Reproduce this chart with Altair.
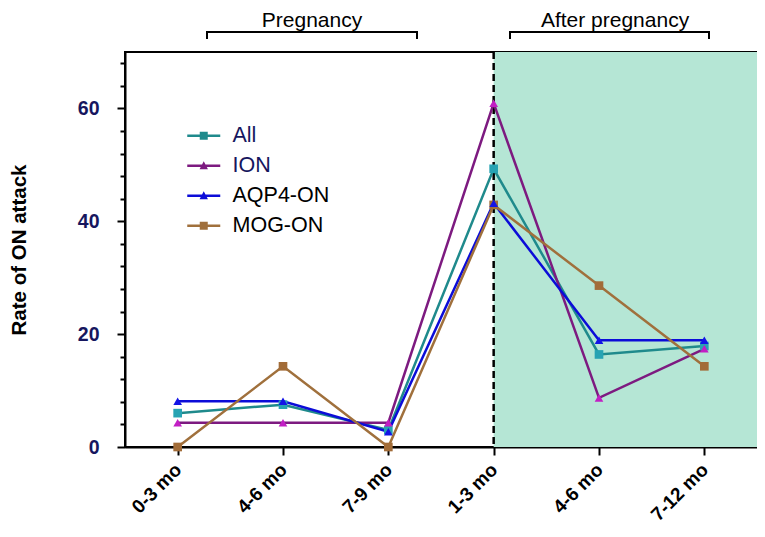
import altair as alt
import pandas as pd

# ---- data ----
phases = ["Pregnancy", "Pregnancy", "Pregnancy", "After", "After", "After"]
period_labels = ["0-3 mo", "4-6 mo", "7-9 mo", "1-3 mo", "4-6 mo", "7-12 mo"]
series_names = ["All", "ION", "AQP4-ON", "MOG-ON"]
all_vals = [6.0, 7.5, 3.0, 49.3, 16.4, 17.9]
ion_vals = [4.3, 4.3, 4.3, 60.9, 8.7, 17.4]
aqp4_vals = [8.1, 8.1, 2.7, 43.2, 18.9, 18.9]
mog_vals = [0.0, 14.3, 0.0, 42.9, 28.6, 14.3]
y_ticks = list(range(0, 69, 4))

line_colors = ["#1f8a8c", "#7d1a80", "#0c0cd8", "#a0703c"]
marker_colors = ["#27a3b3", "#c21fc4", "#1414e6", "#a26c38"]
shade_color = "#b5e6d5"

keys = [f"{p}|{l}" for p, l in zip(phases, period_labels)]
vals = {"All": all_vals, "ION": ion_vals, "AQP4-ON": aqp4_vals, "MOG-ON": mog_vals}
rows = []
for s in series_names:
    for k, v in zip(keys, vals[s]):
        rows.append({"series": s, "period": k, "rate": v})
df = pd.DataFrame(rows)

W, H = 632, 395
FONT = "Liberation Sans"

x_enc = alt.X(
    "period:O",
    sort=keys,
    scale=alt.Scale(domain=keys, type="point", padding=0.5),
    axis=alt.Axis(
        title=None,
        labelExpr="split(datum.label, '|')[1]",
        labelAngle=-45,
        labelFontSize=19,
        labelFontWeight="bold",
        labelColor="black",
        labelPadding=5,
        labelOffset=-6,
        tickSize=8,
        tickWidth=2,
        tickColor="black",
        domainColor="black",
        domainWidth=2,
        grid=False,
    ),
)
y_enc = alt.Y(
    "rate:Q",
    scale=alt.Scale(domain=[0, 70], nice=False),
    axis=alt.Axis(
        title="Rate of ON attack",
        titleFontSize=20.5,
        titleFontWeight="bold",
        titleColor="black",
        titlePadding=48,
        values=y_ticks,
        labelExpr="datum.value % 20 == 0 ? datum.label : ''",
        labelFontSize=19.5,
        labelFontWeight="bold",
        labelColor="#16165e",
        labelPadding=18,
        tickSize={"condition": {"test": "datum.value % 20 == 0", "value": 8}, "value": 5},
        tickWidth=2,
        tickColor="black",
        domainColor="black",
        domainWidth=2,
        grid=False,
    ),
)

color_scale = alt.Scale(domain=series_names, range=line_colors)
fill_scale = alt.Scale(domain=series_names, range=marker_colors)

shade_df = pd.DataFrame({"period": [keys[3]]})
shade = alt.Chart(shade_df).mark_rect(color=shade_color).encode(
    x=alt.X("period:O", sort=keys),
    x2=alt.value("width"),
    y=alt.value(0),
    y2=alt.value("height"),
)
vline = alt.Chart(shade_df).mark_rule(color="black", strokeWidth=2.5, strokeDash=[7, 4]).encode(
    x=alt.X("period:O", sort=keys),
    y=alt.value(0),
    y2=alt.value("height"),
)

lines = alt.Chart(df).mark_line(strokeWidth=2.5).encode(
    x=x_enc,
    y=y_enc,
    color=alt.Color("series:N", scale=color_scale, legend=None),
    detail="series:N",
)

squares = alt.Chart(df).transform_filter(
    alt.FieldOneOfPredicate(field="series", oneOf=["All", "MOG-ON"])
).mark_point(filled=True, shape="square", size=75, opacity=1, strokeWidth=0).encode(
    x=x_enc,
    y=y_enc,
    fill=alt.Fill("series:N", scale=fill_scale, legend=None),
)
triangles = alt.Chart(df).transform_filter(
    alt.FieldOneOfPredicate(field="series", oneOf=["ION", "AQP4-ON"])
).mark_point(filled=True, shape="triangle-up", size=75, opacity=1, strokeWidth=0).encode(
    x=x_enc,
    y=y_enc,
    fill=alt.Fill("series:N", scale=fill_scale, legend=None),
)

sq_path = "M-1.65,-0.12H1.65V0.12H-1.65Z M-0.4,-0.4H0.4V0.4H-0.4Z"
tri_path = "M-1.65,-0.12H1.65V0.12H-1.65Z M0,-0.45L0.42,0.35L-0.42,0.35Z"
legend_def = alt.Legend(
    title=None,
    orient="none",
    legendX=68,
    legendY=73,
    padding=0,
    symbolSize=400,
    symbolStrokeWidth=0,
    labelFontSize=21.5,
    labelFont=FONT,
    labelOffset=18,
    rowPadding=7,
    labelColor={"expr": "(datum.label == 'All' || datum.label == 'ION') ? '#16165e' : 'black'"},
)
legend_layer = alt.Chart(df).transform_filter("false").mark_point(filled=True, opacity=1).encode(
    x=x_enc,
    y=y_enc,
    color=alt.Color("series:N", scale=color_scale, legend=legend_def),
    shape=alt.Shape(
        "series:N",
        scale=alt.Scale(domain=series_names, range=[sq_path, tri_path, tri_path, sq_path]),
        legend=legend_def,
    ),
)

one = pd.DataFrame({"a": [0]})
def hrule(x1, x2, y):
    return alt.Chart(one).mark_rule(color="black", strokeWidth=2).encode(
        x=alt.value(x1), x2=alt.value(x2), y=alt.value(y)
    )
def vrule(x, y1, y2):
    return alt.Chart(one).mark_rule(color="black", strokeWidth=2).encode(
        x=alt.value(x), y=alt.value(y1), y2=alt.value(y2)
    )
def label(x, y, t):
    return alt.Chart(one).mark_text(
        text=t, fontSize=21, font=FONT, color="black", align="center", baseline="alphabetic"
    ).encode(x=alt.value(x), y=alt.value(y))

annots = [
    hrule(82, 292, -20), vrule(82, -21, -13), vrule(292, -21, -13),
    hrule(385, 584, -20), vrule(385, -21, -13), vrule(584, -21, -13),
    label(187, -25.5, "Pregnancy"), label(490, -25.5, "After pregnancy"),
]

chart = alt.layer(legend_layer, shade, vline, lines, squares, triangles, *annots).resolve_scale(
    fill="independent"
).properties(
    width=W,
    height=H,
    autosize=alt.AutoSizeParams(type="none"),
    padding={"left": 117, "top": 44, "right": 0, "bottom": 80},
).configure(font=FONT).configure_view(stroke="black", strokeWidth=2)

chart.save("out.html", embed_options={"renderer": "svg", "actions": False})
